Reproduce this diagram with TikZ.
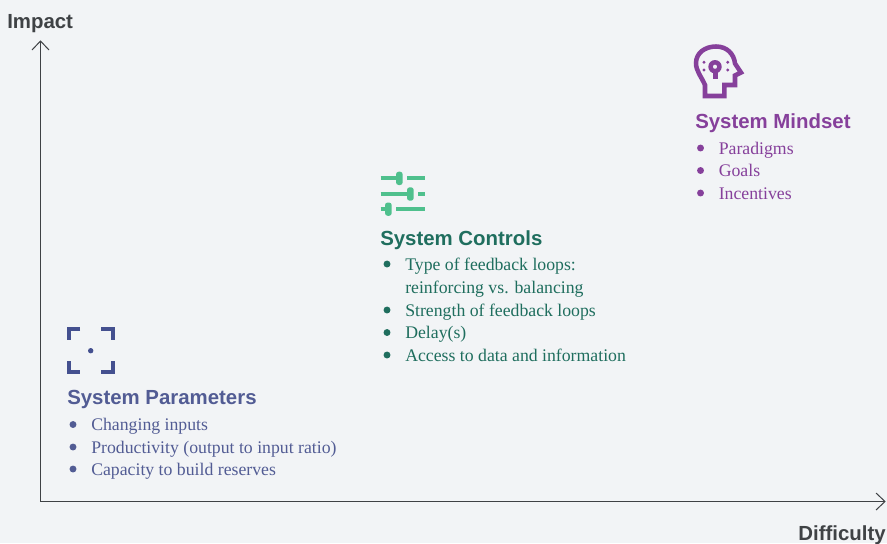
\documentclass[tikz,border=0pt]{standalone}
\usepackage{fontspec}
\setmainfont{Liberation Serif}
\setsansfont{Liberation Sans}
\definecolor{bg}{HTML}{F2F4F6}
\definecolor{ax}{HTML}{3F4245}
\definecolor{paramc}{HTML}{525C94}
\definecolor{parami}{HTML}{44508F}
\definecolor{ctrlc}{HTML}{1F6E5E}
\definecolor{ctrlg}{HTML}{4FC08D}
\definecolor{mindc}{HTML}{86409B}
\tikzset{x=0.75pt,y=-0.75pt,
 axis/.style={draw=ax,line width=0.75pt},
 ttl/.style={anchor=base west,inner sep=0,font=\fontsize{15.3}{15}\selectfont\sffamily\bfseries},
 itm/.style={anchor=base west,inner sep=0,font=\fontsize{13.3}{13}\selectfont},
 axl/.style={inner sep=0,text=ax,font=\fontsize{15.3}{15}\selectfont\sffamily\bfseries},
 bul/.style={circle,inner sep=0,minimum size=5.2pt},
 slider/.style={draw=ctrlg,line width=3.2pt},
 knob/.style={fill=ctrlg,rounded corners=2pt},
 corner/.style={draw=parami,line width=3.2pt,miter limit=10}}
\begin{document}
\begin{tikzpicture}
\fill[bg] (0,0) rectangle (887,543);
\useasboundingbox (0,0) rectangle (887,543);
% axes
\coordinate (o) at (40.5,501.5);
\coordinate (yt) at (40.5,41);
\coordinate (xt) at (885,501.5);
\draw[axis] (o)--(yt);
\draw[axis] (o)--(xt);
\draw[axis] (32,50)--(yt)--(49,50);
\draw[axis] (876,493)--(xt)--(876,510);
\node[axl,anchor=base west] (imp) at (7,28) {Impact};
\node[axl,anchor=base east] (dif) at (886,540) {Difficulty};
% mindset icon
\draw[mindc,line width=3.4pt,line join=miter]
 (705,96) -- (705,85) .. controls (701,76) and (696,71) .. (696,63)
 .. controls (696,53) and (705,46.5) .. (716,46.5)
 .. controls (727,46.5) and (734,54) .. (735,63.5)
 -- (741,72.5) -- (735,75.5) -- (735,85) -- (724.3,85) -- (724.3,96) -- cycle;
\fill[mindc,even odd rule] (715,66.7) circle[radius=6.7] (715,66.7) circle[radius=2.2];
\draw[mindc,line width=3.4pt] (715.5,71) -- (715.5,79);
\foreach \px/\py in {704/62.3,727.7/62.3,704/70,727.7/70}
 \fill[mindc] (\px,\py) circle[radius=1.6];
\node[ttl,text=mindc] (tm) at (695,128) {System Mindset};
\foreach \n/\by/\t in {a/154/Paradigms,b/176.5/Goals,c/199/Incentives}{
 \node[bul,fill=mindc] (m\n) at (700.5,\by-6) {};
 \node[itm,text=mindc] (mt\n) at (718.5,\by) {\t};
}
% controls icon
\draw[slider] (380.7,178.3) -- (396,178.3) (407.3,178.3) -- (424.7,178.3);
\fill[knob] (396,171.7) rectangle (402.7,185);
\draw[slider] (380.7,194) -- (407,194) (418.3,194) -- (424.7,194);
\fill[knob] (407,187.3) rectangle (413.7,200.7);
\draw[slider] (380.7,209) -- (385,209) (396,209) -- (424.7,209);
\fill[knob] (385,202.5) rectangle (391.7,215.8);
\node[ttl,text=ctrlc] (tc) at (380,245) {System Controls};
\node[bul,fill=ctrlc] (c1) at (387,264) {};
\node[itm,text=ctrlc] (ct1) at (405,270.5) {Type of feedback loops:};
\node[itm,text=ctrlc] (ct1b) at (405,293.5) {reinforcing vs. balancing};
\foreach \n/\by/\t in {2/316/Strength of feedback loops,3/338.5/Delay(s),4/361/Access to data and information}{
 \node[bul,fill=ctrlc] (c\n) at (387,\by-6) {};
 \node[itm,text=ctrlc] (ct\n) at (405,\by) {\t};
}
% parameters icon
\draw[corner] (80,328.8) -- (68.8,328.8) -- (68.8,340);
\draw[corner] (101.3,328.8) -- (112.9,328.8) -- (112.9,340);
\draw[corner] (68.8,361) -- (68.8,372.2) -- (80,372.2);
\draw[corner] (101.3,372.2) -- (112.9,372.2) -- (112.9,361);
\fill[parami] (90.7,350.7) circle[radius=2.7];
\node[ttl,text=paramc] (tp) at (67,404) {System Parameters};
\foreach \n/\by/\t in {1/430.5/Changing inputs/outputs,2/453/Productivity (output to input ratio),3/475/Capacity to build reserves}{
 \node[bul,fill=paramc] (p\n) at (73,\by-6) {};
 \node[itm,text=paramc] (pt\n) at (91,\by) {\t};
}
\end{tikzpicture}
\end{document}
